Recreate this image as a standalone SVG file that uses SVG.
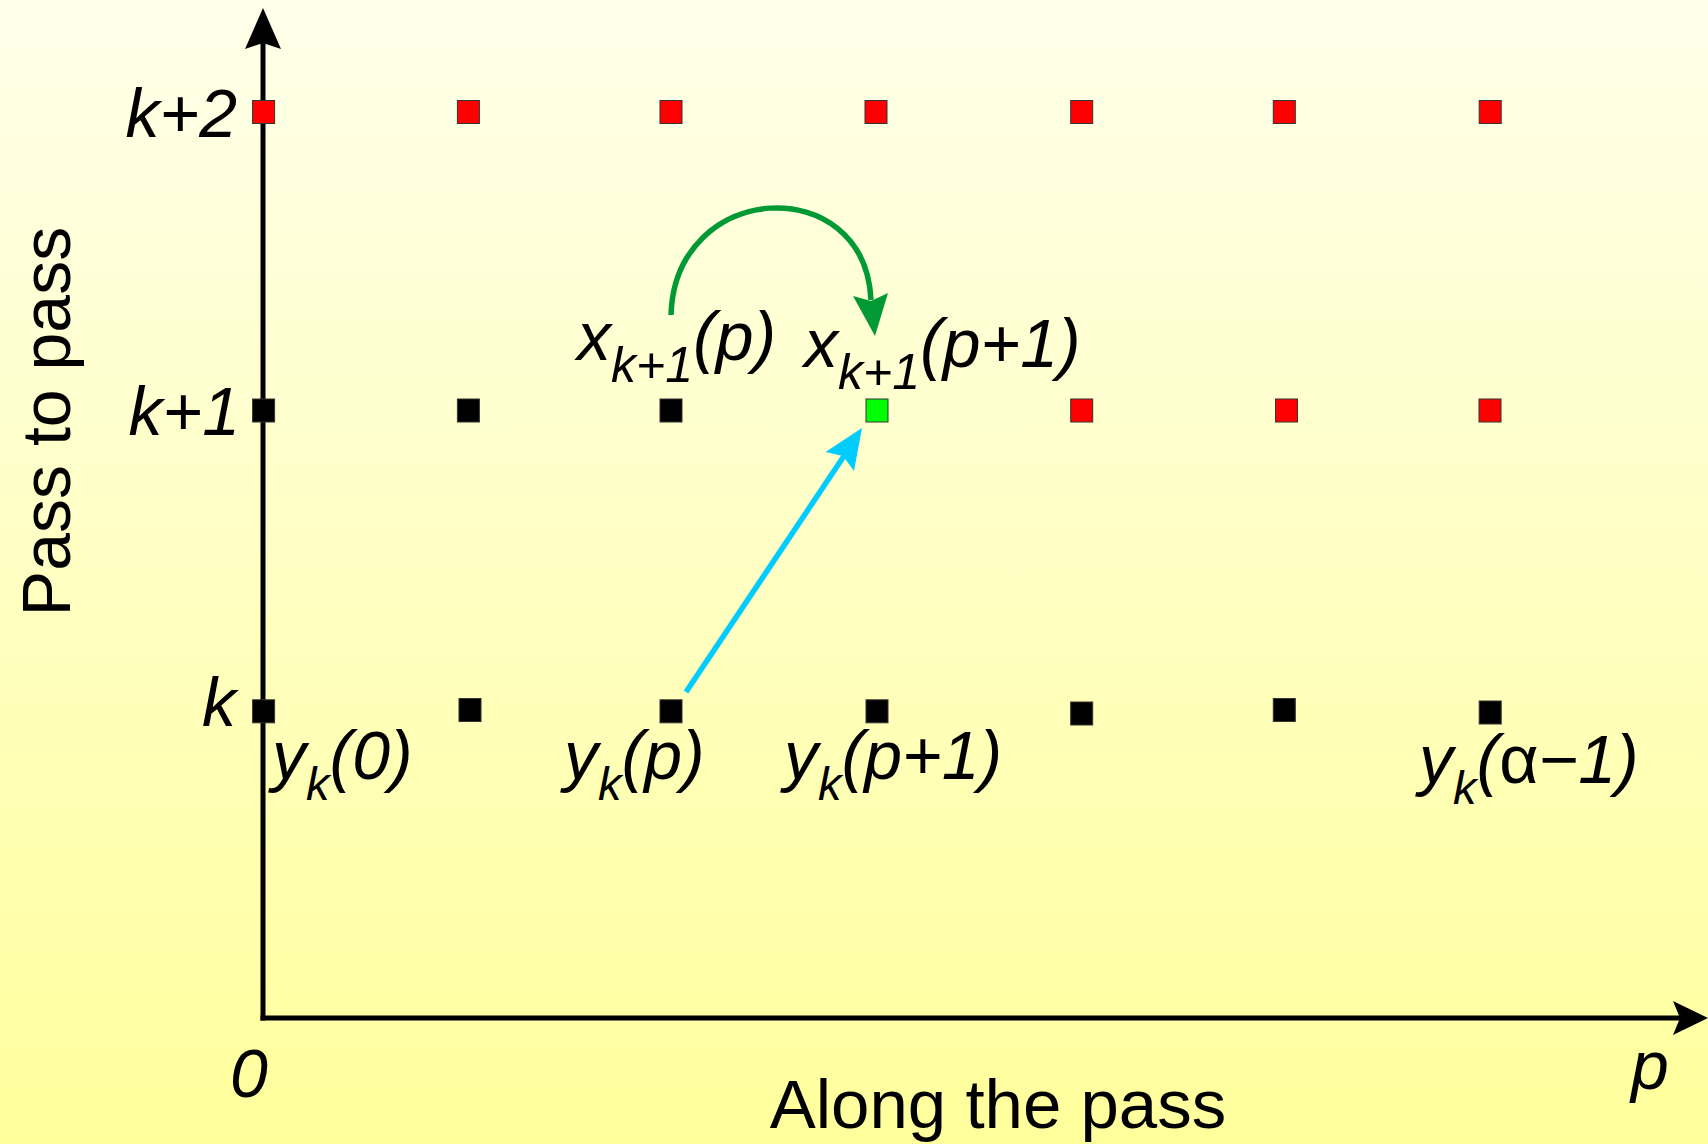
<svg xmlns="http://www.w3.org/2000/svg" width="1708" height="1144" viewBox="0 0 1708 1144">
<defs>
<linearGradient id="bg" x1="0" y1="0" x2="0" y2="1">
<stop offset="0" stop-color="#FFFFEA"/>
<stop offset="1" stop-color="#FFFF9C"/>
</linearGradient>
<style>
.t{font-family:"Liberation Sans",Arial,sans-serif;fill:#000}
.m{font-style:italic;font-size:68px}
.r{fill:#FF0000;stroke:#333;stroke-width:1}
.b{fill:#000;stroke:#333;stroke-width:1}
.g{fill:#00FF00;stroke:#333;stroke-width:1}
.ax{stroke:#000;stroke-width:5;fill:none}
</style>
</defs>
<rect x="0" y="0" width="1708" height="1144" fill="url(#bg)"/>

<g id="axes">
<line class="ax" x1="263" y1="40" x2="263" y2="1020.5"/>
<line class="ax" x1="260.5" y1="1018" x2="1682" y2="1018"/>
<path d="M263,8 L281,49 L263,43 L245,49 Z" fill="#000"/>
<path d="M1708,1018 L1673,1001 L1680,1018 L1673,1035 Z" fill="#000"/>
</g>

<g id="nodes">
<g id="n-k2-0"><rect class="r" x="252.6" y="100.5" width="22" height="23"/></g>
<g id="n-k2-1"><rect class="r" x="457.4" y="100.5" width="22" height="23"/></g>
<g id="n-k2-2"><rect class="r" x="660" y="100.5" width="22" height="23"/></g>
<g id="n-k2-3"><rect class="r" x="865" y="100.5" width="22" height="23"/></g>
<g id="n-k2-4"><rect class="r" x="1070.7" y="100.5" width="22" height="23"/></g>
<g id="n-k2-5"><rect class="r" x="1273.3" y="100.5" width="22" height="23"/></g>
<g id="n-k2-6"><rect class="r" x="1479.2" y="100.5" width="22" height="23"/></g>

<g id="n-k1-0"><rect class="b" x="252.6" y="399" width="22" height="23"/></g>
<g id="n-k1-1"><rect class="b" x="457.4" y="399" width="22" height="23"/></g>
<g id="n-k1-2"><rect class="b" x="660" y="399" width="22" height="23"/></g>
<g id="n-k1-3"><rect class="g" x="866" y="399" width="22" height="23"/></g>
<g id="n-k1-4"><rect class="r" x="1070.7" y="399" width="22" height="23"/></g>
<g id="n-k1-5"><rect class="r" x="1275.5" y="399" width="22" height="23"/></g>
<g id="n-k1-6"><rect class="r" x="1479" y="399" width="22" height="23"/></g>

<g id="n-k-0"><rect class="b" x="252.6" y="699.8" width="22" height="23"/></g>
<g id="n-k-1"><rect class="b" x="459" y="698.5" width="22" height="23"/></g>
<g id="n-k-2"><rect class="b" x="660" y="699.8" width="22" height="23"/></g>
<g id="n-k-3"><rect class="b" x="866" y="699.8" width="22" height="23"/></g>
<g id="n-k-4"><rect class="b" x="1070.7" y="702" width="22" height="23"/></g>
<g id="n-k-5"><rect class="b" x="1273.3" y="698.5" width="22" height="23"/></g>
<g id="n-k-6"><rect class="b" x="1479.2" y="701" width="22" height="23"/></g>
</g>

<g id="connectors">
<path d="M671,315 C675,180 865,170 871,300" fill="none" stroke="#009933" stroke-width="5.5"/>
<path d="M875,336 L853,296 L871,301 L888,293 Z" fill="#009933"/>
<line x1="686" y1="692" x2="844" y2="456" stroke="#00CCFF" stroke-width="5.5"/>
<path d="M862,428 L854,471 L843,456 L825.5,452 Z" fill="#00CCFF"/>
</g>

<g id="labels" class="t">
<text class="m" x="237" y="137" text-anchor="end">k+2</text>
<text class="m" x="240" y="435" text-anchor="end">k+1</text>
<text class="m" x="236" y="726" text-anchor="end">k</text>

<text class="m" x="577" y="360">x<tspan font-size="50" dy="22">k+1</tspan><tspan dy="-22">(p)</tspan></text>
<text class="m" x="804" y="367">x<tspan font-size="50" dy="22">k+1</tspan><tspan dy="-22">(p+1)</tspan></text>

<text class="m" x="272" y="779">y<tspan font-size="47" dy="21">k</tspan><tspan dy="-21">(0)</tspan></text>
<text class="m" x="564" y="779">y<tspan font-size="47" dy="21">k</tspan><tspan dy="-21">(p)</tspan></text>
<text class="m" x="784" y="779">y<tspan font-size="47" dy="21">k</tspan><tspan dy="-21">(p+1)</tspan></text>
<text class="m" x="1419" y="783">y<tspan font-size="47" dy="21">k</tspan><tspan dy="-21">(<tspan font-style="normal">α</tspan>−1)</tspan></text>

<text class="m" x="230" y="1097" font-size="69">0</text>
<text class="m" x="1631" y="1089" font-size="68">p</text>

<text x="998" y="1128" font-size="69" text-anchor="middle">Along the pass</text>
<text transform="translate(70,421.5) rotate(-90)" font-size="68" text-anchor="middle">Pass to pass</text>
</g>
</svg>
